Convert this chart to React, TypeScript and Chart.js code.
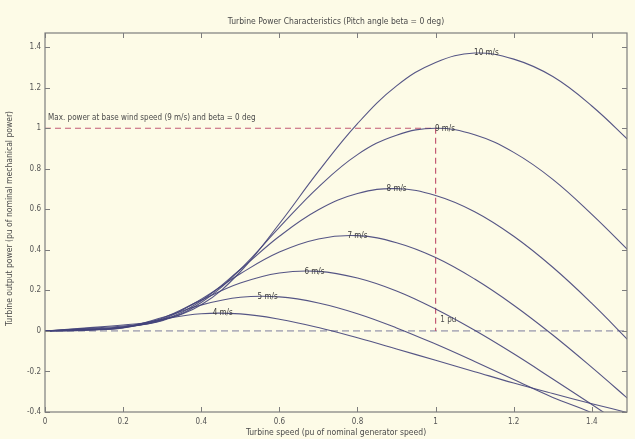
import React, { useEffect, useRef } from 'react';
import { Chart, registerables } from 'chart.js';

Chart.register(...registerables);

// ---- data ----
const speed = [0, 0.1, 0.2, 0.3, 0.4, 0.5, 0.6, 0.7, 0.8, 0.9, 1.0, 1.1, 1.2, 1.3, 1.4, 1.5];

const p10 = [0, 0.014, 0.029, 0.055, 0.129, 0.292, 0.529, 0.787, 1.023, 1.209, 1.325, 1.371, 1.341, 1.255, 1.11, 0.93];
const p9 = [0, 0.012, 0.024, 0.05, 0.14, 0.304, 0.511, 0.71, 0.87, 0.966, 1.0, 0.968, 0.881, 0.748, 0.575, 0.385];
const p8 = [0, 0.009, 0.02, 0.053, 0.149, 0.303, 0.467, 0.598, 0.678, 0.702, 0.668, 0.588, 0.467, 0.314, 0.136, -0.059];
const p7 = [0, 0.007, 0.017, 0.057, 0.157, 0.282, 0.389, 0.454, 0.47, 0.435, 0.362, 0.256, 0.127, -0.02, -0.18, -0.347];
const p6 = [0, 0.005, 0.015, 0.063, 0.152, 0.236, 0.286, 0.294, 0.261, 0.197, 0.108, 0.003, -0.113, -0.237, -0.363, -0.491];
const p5 = [0, 0.004, 0.016, 0.066, 0.128, 0.166, 0.168, 0.138, 0.085, 0.015, -0.065, -0.151, -0.24, -0.328, -0.404, -0.501];
const p4 = [0, 0.002, 0.019, 0.058, 0.085, 0.084, 0.058, 0.017, -0.034, -0.089, -0.145, -0.201, -0.257, -0.309, -0.359, -0.407];

const windLabels = ['10 m/s', '9 m/s', '8 m/s', '7 m/s', '6 m/s', '5 m/s', '4 m/s'];
const labelSpeed = [1.13, 1.024, 0.9, 0.8, 0.69, 0.57, 0.455];
const labelPower = [1.373, 0.998, 0.701, 0.469, 0.291, 0.168, 0.089];

const baseSpeed = 1; // pu
const maxPower = 1; // pu

const xTicks = [0, 0.2, 0.4, 0.6, 0.8, 1, 1.2, 1.4];
const yTicks = [-0.4, -0.2, 0, 0.2, 0.4, 0.6, 0.8, 1, 1.2, 1.4];
const xMin = 0;
const xMax = 1.49;
const yMin = -0.4;
const yMax = 1.47;

const titleText = 'Turbine Power Characteristics (Pitch angle beta = 0 deg)';
const xTitle = 'Turbine speed (pu of nominal generator speed)';
const yTitle = 'Turbine output power (pu of nominal mechanical power)';
const maxNote = 'Max. power at base wind speed (9 m/s) and beta = 0 deg';
const puNote = '1 pu';

// ---- styles ----
const FONT = "'Liberation Sans Narrow', 'DejaVu Sans Condensed', 'Arial Narrow', 'Liberation Sans', Arial, sans-serif";
const BG = '#fdfbe7';
const CURVE = 'rgba(66, 66, 122, 0.9)';
const RED = '#c45a74';
const ZERO = '#7c7c9c';
const AXIS = '#7d7d7d';
const TEXT = '#4a4a4a';

const fmt = (v: number) => String(Math.round(v * 10) / 10);

const overlay = {
  id: 'overlay',
  beforeDraw(chart: any) {
    const ctx = chart.ctx;
    ctx.save();
    ctx.fillStyle = BG;
    ctx.fillRect(0, 0, chart.width, chart.height);
    ctx.restore();
  },
  afterDraw(chart: any) {
    const ctx = chart.ctx;
    const a = chart.chartArea;
    const xs = chart.scales.x;
    const ys = chart.scales.y;
    ctx.save();
    // box
    ctx.strokeStyle = AXIS;
    ctx.lineWidth = 1.2;
    ctx.strokeRect(a.left, a.top, a.right - a.left, a.bottom - a.top);
    // inward ticks
    ctx.lineWidth = 1;
    ctx.beginPath();
    const tl = 5;
    xTicks.forEach((v) => {
      const px = Math.round(xs.getPixelForValue(v)) + 0.5;
      ctx.moveTo(px, a.bottom);
      ctx.lineTo(px, a.bottom - tl);
      ctx.moveTo(px, a.top);
      ctx.lineTo(px, a.top + tl);
    });
    yTicks.forEach((v) => {
      const py = Math.round(ys.getPixelForValue(v)) + 0.5;
      ctx.moveTo(a.left, py);
      ctx.lineTo(a.left + tl, py);
      ctx.moveTo(a.right, py);
      ctx.lineTo(a.right - tl, py);
    });
    ctx.stroke();

    // curve labels
    ctx.fillStyle = '#3a3a3a';
    ctx.font = `8px ${FONT}`;
    ctx.textAlign = 'center';
    ctx.textBaseline = 'middle';
    windLabels.forEach((t, i) => {
      const px = xs.getPixelForValue(labelSpeed[i]);
      const py = ys.getPixelForValue(labelPower[i]);
      ctx.fillText(t, px, py);
    });

    // notes
    ctx.fillStyle = TEXT;
    ctx.textAlign = 'left';
    ctx.font = `8px ${FONT}`;
    ctx.fillText(maxNote, xs.getPixelForValue(0.008), ys.getPixelForValue(1.052));
    ctx.fillText(puNote, xs.getPixelForValue(1.012), ys.getPixelForValue(0.054));

    // title and axis titles
    ctx.textAlign = 'center';
    ctx.font = `8.5px ${FONT}`;
    ctx.fillText(titleText, (a.left + a.right) / 2, 22);
    ctx.fillText(xTitle, (a.left + a.right) / 2, 433);
    ctx.translate(10, (a.top + a.bottom) / 2 - 4);
    ctx.rotate(-Math.PI / 2);
    ctx.fillText(yTitle, 0, 0);
    ctx.restore();
  },
};

export default function App() {
  const ref = useRef<HTMLCanvasElement>(null);

  useEffect(() => {
    if (!ref.current) return;
    const curves = [p10, p9, p8, p7, p6, p5, p4];
    const datasets: any[] = curves.map((p, i) => ({
      label: windLabels[i],
      data: speed.map((x, j) => ({ x, y: p[j] })),
      borderColor: CURVE,
      borderWidth: 1.1,
      pointRadius: 0,
      tension: 0.4,
      fill: false,
    }));
    datasets.push({
      label: 'max',
      data: [
        { x: xMin, y: maxPower },
        { x: baseSpeed, y: maxPower },
        { x: baseSpeed, y: 0 },
      ],
      borderColor: RED,
      borderWidth: 1.2,
      borderDash: [6, 4],
      pointRadius: 0,
      tension: 0,
      fill: false,
    });
    datasets.push({
      label: 'zero',
      data: [
        { x: xMin, y: 0 },
        { x: xMax, y: 0 },
      ],
      borderColor: ZERO,
      borderWidth: 1,
      borderDash: [7, 4],
      pointRadius: 0,
      tension: 0,
      fill: false,
    });

    const chart = new Chart(ref.current, {
      type: 'line',
      data: { datasets },
      options: {
        responsive: false,
        animation: false,
        layout: { padding: { top: 33, right: 8, left: 0, bottom: 0 } },
        plugins: { legend: { display: false }, tooltip: { enabled: false }, title: { display: false } },
        scales: {
          x: {
            type: 'linear',
            min: xMin,
            max: xMax,
            grid: { display: false, drawTicks: false },
            border: { display: false },
            ticks: {
              padding: 5,
              color: '#555',
              font: { family: FONT, size: 8 },
              maxRotation: 0,
              autoSkip: false,
              callback: (v: any) => fmt(Number(v)),
            },
            afterBuildTicks: (s: any) => {
              s.ticks = xTicks.map((v) => ({ value: v }));
            },
            afterFit: (s: any) => {
              s.height = 27;
            },
          },
          y: {
            type: 'linear',
            min: yMin,
            max: yMax,
            grid: { display: false, drawTicks: false },
            border: { display: false },
            ticks: {
              padding: 4,
              color: '#555',
              font: { family: FONT, size: 8 },
              autoSkip: false,
              callback: (v: any) => fmt(Number(v)),
            },
            afterBuildTicks: (s: any) => {
              s.ticks = yTicks.map((v) => ({ value: v }));
            },
            afterFit: (s: any) => {
              s.width = 45;
            },
          },
        },
      } as any,
      plugins: [overlay],
    });
    return () => chart.destroy();
  }, []);

  return (
    <div style={{ position: 'fixed', left: 0, top: 0, width: 635, height: 439, background: BG }}>
      <canvas ref={ref} width={635} height={439} style={{ display: 'block' }} />
    </div>
  );
}
